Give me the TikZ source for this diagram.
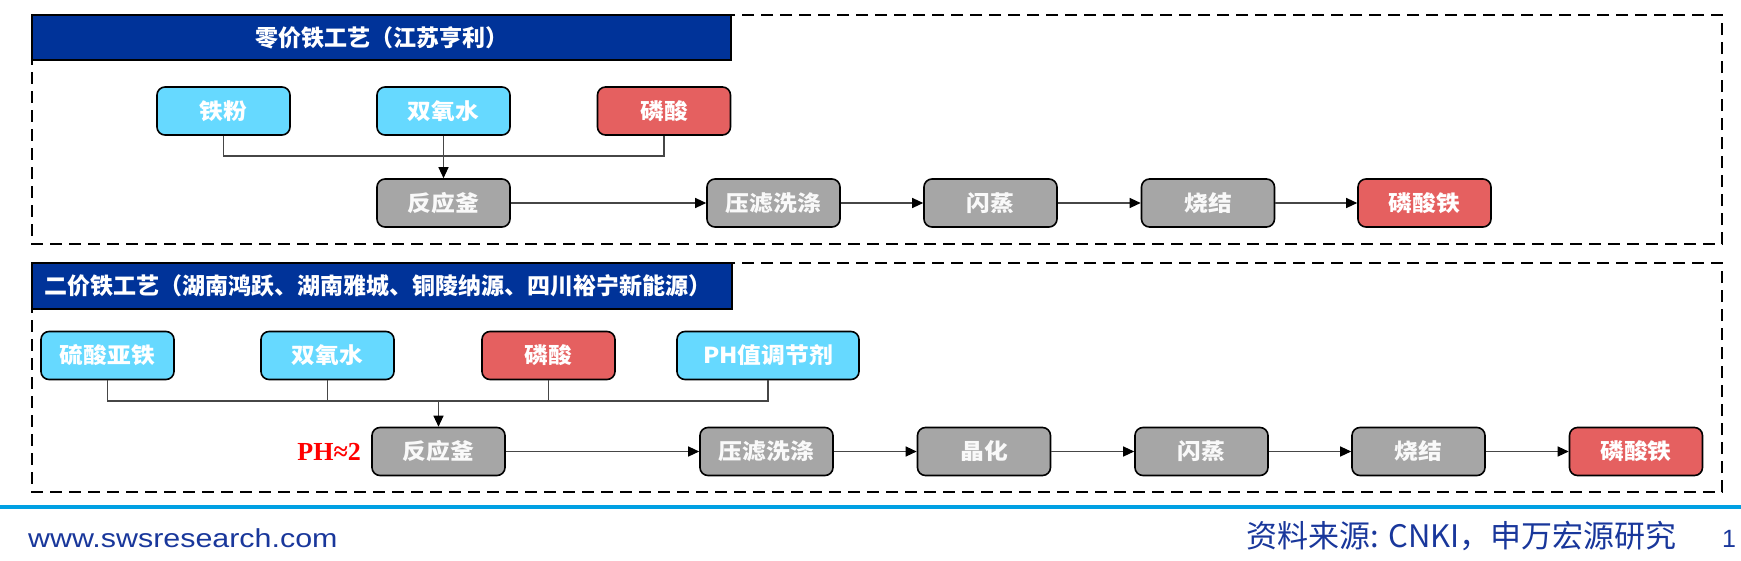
\documentclass[tikz,border=0pt]{standalone}
\usepackage{fontspec}
\setmainfont{Liberation Sans}
\newfontfamily\cjk{Noto Sans CJK SC}
\newfontfamily\cjkbox{Noto Sans CJK SC}[FakeStretch=1.08]
\newfontfamily\phfont{Liberation Serif}
\usetikzlibrary{arrows.meta}
\definecolor{cyanc}{RGB}{102,217,255}
\definecolor{redc}{RGB}{229,96,96}
\definecolor{grayc}{RGB}{166,166,166}
\definecolor{titleblue}{RGB}{0,51,153}
\definecolor{linec}{RGB}{70,70,70}
\definecolor{footblue}{RGB}{0,160,227}
\definecolor{foottext}{RGB}{25,55,155}
\tikzset{
  box/.style={draw=black, line width=1.6pt, rounded corners=8pt, minimum width=133pt,
    minimum height=48pt, inner sep=0pt, text=white,
    font=\cjkbox\bfseries\fontsize{22}{26}\selectfont},
  cyanbox/.style={box, fill=cyanc},
  redbox/.style={box, fill=redc},
  graybox/.style={box, fill=grayc, text=white!95!gray},
  link/.style={draw=linec, line width=1.2pt},
  arr/.style={link, -{Triangle[length=11pt,width=10pt,color=black]}},
  dashbox/.style={draw=black, line width=2.6pt, dash pattern=on 12pt off 7pt},
  titlebar/.style={draw=black, line width=1.5pt, fill=titleblue},
  titletext/.style={text=white, inner sep=0pt, font=\cjk\bfseries\fontsize{23}{27}\selectfont}
}
\begin{document}
\begin{tikzpicture}[x=1pt,y=-1pt]
\useasboundingbox (0,0) rectangle (1741,560);

% ---------- upper panel ----------
\draw[dashbox] (32,15) rectangle (1722,244);
\draw[titlebar] (32,15) rectangle (731,60);
\node[titletext] (t1) at (381.5,37.5) {零价铁工艺（江苏亨利）};

\node[cyanbox] (a1) at (223.5,111) {铁粉};
\node[cyanbox] (a2) at (443.5,111) {双氧水};
\node[redbox]  (a3) at (664,111) {磷酸};

\node[graybox] (p1) at (443.5,203) {反应釜};
\node[graybox] (p2) at (773.5,203) {压滤洗涤};
\node[graybox] (p3) at (990.5,203) {闪蒸};
\node[graybox] (p4) at (1208,203) {烧结};
\node[redbox]  (p5) at (1424.5,203) {磷酸铁};

\coordinate (j1) at (443.5,156);
\draw[link] (a1.south) |- (j1) -| (a3.south);
\draw[arr] (a2.south) -- (p1.north);
\draw[arr] (p1) -- (p2);
\draw[arr] (p2) -- (p3);
\draw[arr] (p3) -- (p4);
\draw[arr] (p4) -- (p5);

% ---------- lower panel ----------
\draw[dashbox] (32,263) rectangle (1722,492);
\draw[titlebar] (32,263) rectangle (732,309);
\node[titletext, anchor=west] (t2) at (44,286) {二价铁工艺（湖南鸿跃、湖南雅城、铜陵纳源、四川裕宁新能源）};

\node[cyanbox] (b1) at (107.5,355.5) {硫酸亚铁};
\node[cyanbox] (b2) at (327.5,355.5) {双氧水};
\node[redbox]  (b3) at (548.5,355.5) {磷酸};
\node[cyanbox, minimum width=182pt] (b4) at (768,355.5) {PH值调节剂};

\node[graybox] (q1) at (438.5,451.5) {反应釜};
\node[graybox] (q2) at (766.5,451.5) {压滤洗涤};
\node[graybox] (q3) at (984,451.5) {晶化};
\node[graybox] (q4) at (1201.5,451.5) {闪蒸};
\node[graybox] (q5) at (1418.5,451.5) {烧结};
\node[redbox]  (q6) at (1636,451.5) {磷酸铁};

\node[anchor=east, inner sep=0pt, text=red, font=\phfont\bfseries\fontsize{26}{30}\selectfont] (ph) at (361,452) {PH≈2};

\coordinate (j2) at (438.5,401);
\draw[link] (b1.south) |- (j2) -| (b4.south);
\draw[link] (b2.south) -- (b2.south |- j2);
\draw[link] (b3.south) -- (b3.south |- j2);
\draw[arr] (j2) -- (q1.north);
\draw[arr] (q1) -- (q2);
\draw[arr] (q2) -- (q3);
\draw[arr] (q3) -- (q4);
\draw[arr] (q4) -- (q5);
\draw[arr] (q5) -- (q6);

% ---------- footer ----------
\coordinate (fl) at (0,507);
\coordinate (fr) at (1741,507);
\draw[draw=footblue, line width=4pt] (fl) -- (fr);
\node[anchor=base west, inner sep=0pt, text=foottext, font=\fontsize{26}{30}\selectfont] (web) at (28,547) {\scalebox{1.17}[1]{www.swsresearch.com}};
\node[anchor=base east, inner sep=0pt, text=foottext, font=\cjk\fontsize{31}{35}\selectfont] (src) at (1677,547) {资料来源: CNKI，申万宏源研究};
\node[anchor=base west, inner sep=0pt, text=foottext, font=\fontsize{25}{30}\selectfont] (pg) at (1722,547) {1};
\end{tikzpicture}
\end{document}
